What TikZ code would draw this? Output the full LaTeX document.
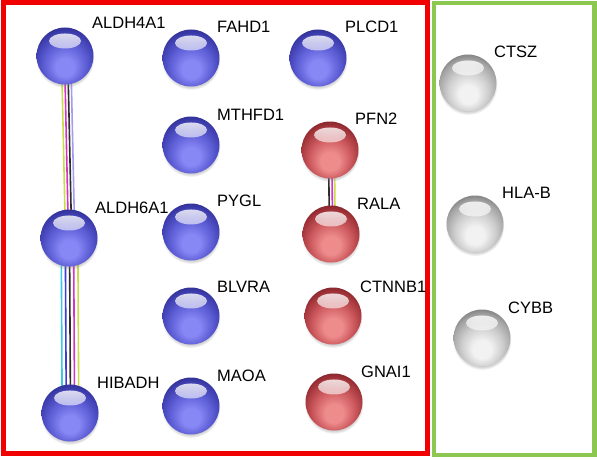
\documentclass[tikz,border=0pt]{standalone}
\usepackage{fontspec}
\setmainfont{Liberation Sans}
\usetikzlibrary{shadows,fadings}
\definecolor{bL}{RGB}{135,135,245}
\definecolor{bM}{RGB}{95,95,215}
\definecolor{bS}{RGB}{65,65,180}
\definecolor{bD}{RGB}{35,35,125}
\definecolor{rL}{RGB}{238,140,140}
\definecolor{rM}{RGB}{205,90,95}
\definecolor{rS}{RGB}{165,55,60}
\definecolor{rD}{RGB}{112,22,32}
\definecolor{gL}{RGB}{242,242,242}
\definecolor{gM}{RGB}{205,205,205}
\definecolor{gS}{RGB}{165,165,165}
\definecolor{gD}{RGB}{100,100,100}
\definecolor{framered}{RGB}{240,0,0}
\definecolor{framegreen}{RGB}{140,200,80}
\definecolor{etext}{RGB}{200,222,70}
\definecolor{eexp}{RGB}{215,50,200}
\definecolor{ecoex}{RGB}{45,45,45}
\definecolor{ehom}{RGB}{165,155,240}
\definecolor{edb}{RGB}{60,200,230}
\definecolor{eocc}{RGB}{60,60,215}
\pgfdeclareradialshading{blueshade}{\pgfpoint{0bp}{-12bp}}{color(0bp)=(bL); color(8bp)=(bL); color(18bp)=(bM); color(26bp)=(bS); color(34bp)=(bD); color(50bp)=(bD)}
\pgfdeclareradialshading{redshade}{\pgfpoint{0bp}{-12bp}}{color(0bp)=(rL); color(8bp)=(rL); color(18bp)=(rM); color(26bp)=(rS); color(34bp)=(rD); color(50bp)=(rD)}
\pgfdeclareradialshading{greyshade}{\pgfpoint{0bp}{-12bp}}{color(0bp)=(gL); color(8bp)=(gL); color(18bp)=(gM); color(26bp)=(gS); color(34bp)=(gD); color(50bp)=(gD)}
\tikzset{
  ballbase/.style={circle, minimum size=57pt, inner sep=0pt,
    circular drop shadow={shadow xshift=0pt, shadow yshift=-2.5pt, shadow scale=1.03, opacity=0.45},
    path picture={\fill[white, path fading=south, opacity=0.9]
      ([yshift=15pt]path picture bounding box.center) ellipse [x radius=16pt, y radius=7.5pt];}},
  bnode/.style={ballbase, shading=blueshade},
  rnode/.style={ballbase, shading=redshade},
  gnode/.style={ballbase, shading=greyshade},
  glabel/.style={anchor=west, inner sep=0pt, text height=12pt, text depth=0pt,
    text=black, font=\fontsize{16.5}{18}\selectfont},
  edgeline/.style={line width=1.6pt},
}
\begin{document}
\begin{tikzpicture}[x=1pt,y=-1pt]
\useasboundingbox (0,0) rectangle (597,460);
\fill[white] (0,0) rectangle (597,460);
% frames
\draw[framered, line width=5pt] (3,3) rectangle (427,453);
\draw[framegreen, line width=4.5pt] (434,3) rectangle (594.5,455);
% node positions
\coordinate (pALDH4A1) at (65,56);
\coordinate (pALDH6A1) at (69,238);
\coordinate (pHIBADH) at (70,413);
\coordinate (pPFN2) at (330,150);
\coordinate (pRALA) at (331,234);
% edges
\foreach \off/\col in {-3.5/etext, -0.5/eexp, 2.7/ecoex, 5.8/ehom}
  \draw[edgeline, \col] ([xshift=\off pt]pALDH4A1) -- ([xshift=\off pt]pALDH6A1);
\foreach \off/\col in {-7.8/edb, -3.7/eocc, 0.5/ecoex, 4.6/eexp, 8.8/etext}
  \draw[edgeline, \col] ([xshift=\off pt]pALDH6A1) -- ([xshift=\off pt]pHIBADH);
\foreach \off/\col in {-1.5/ecoex, 1.7/eexp, 4.3/etext}
  \draw[edgeline, \col] ([xshift=\off pt]pPFN2) -- ([xshift=\off pt]pRALA);
% balls
\node[bnode] (ALDH4A1) at (pALDH4A1) {};
\node[bnode] (FAHD1) at (191,58) {};
\node[bnode] (PLCD1) at (318,58) {};
\node[bnode] (MTHFD1) at (191,145) {};
\node[rnode] (PFN2) at (pPFN2) {};
\node[bnode] (ALDH6A1) at (pALDH6A1) {};
\node[bnode] (PYGL) at (191,232) {};
\node[rnode] (RALA) at (pRALA) {};
\node[bnode] (BLVRA) at (191,316) {};
\node[rnode] (CTNNB1) at (333,316) {};
\node[bnode] (HIBADH) at (pHIBADH) {};
\node[bnode] (MAOA) at (191,406) {};
\node[rnode] (GNAI1) at (334,402) {};
\node[gnode] (CTSZ) at (468,83) {};
\node[gnode] (HLAB) at (475,224) {};
\node[gnode] (CYBB) at (482,338) {};
% labels
\node[glabel] (lALDH4A1) at (92,23) {ALDH4A1};
\node[glabel] (lFAHD1) at (217,27) {FAHD1};
\node[glabel] (lPLCD1) at (345,27) {PLCD1};
\node[glabel] (lMTHFD1) at (217,114) {MTHFD1};
\node[glabel] (lPFN2) at (355,118) {PFN2};
\node[glabel] (lALDH6A1) at (95,207) {ALDH6A1};
\node[glabel] (lPYGL) at (217,200) {PYGL};
\node[glabel] (lRALA) at (357,203) {RALA};
\node[glabel] (lBLVRA) at (217,286) {BLVRA};
\node[glabel] (lCTNNB1) at (360,286) {CTNNB1};
\node[glabel] (lHIBADH) at (97,382) {HIBADH};
\node[glabel] (lMAOA) at (217,375) {MAOA};
\node[glabel] (lGNAI1) at (361,371) {GNAI1};
\node[glabel] (lCTSZ) at (494,52) {CTSZ};
\node[glabel] (lHLAB) at (502,192) {HLA-B};
\node[glabel] (lCYBB) at (508,307) {CYBB};
\end{tikzpicture}
\end{document}
